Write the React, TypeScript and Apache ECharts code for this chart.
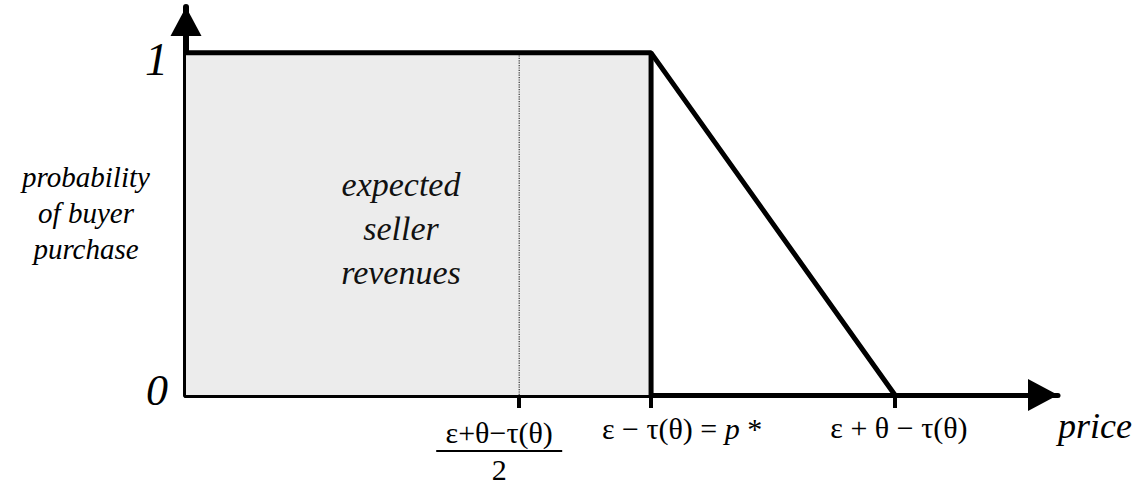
import React, { useEffect, useRef } from "react";
import * as echarts from "echarts";

// price axis (arbitrary units: the reservation ceiling ε+θ−τ(θ) = 100)
const priceMid = 47.0; // (ε+θ−τ(θ))/2
const priceStar = 65.6; // p* = ε − τ(θ)
const priceCeil = 100; // ε+θ−τ(θ)
const priceAxisMax = 123;
const probAxisMax = 1.134;

// probability of purchase curve
const demandCurve: [number, number][] = [
  [0, 1],
  [priceStar, 1],
  [priceCeil, 0],
];
const revenueArea: [number, number][] = [
  [0, 1],
  [priceStar, 1],
];
const pStarEdge: [number, number][] = [
  [priceStar, 0],
  [priceStar, 1],
];
const midGuide: [number, number][] = [
  [priceMid, 0],
  [priceMid, 1],
];

// main price ticks (mid + ceiling) and the p* tick on its own overlay axis
const xTickValues = [priceMid, priceCeil];
const xTickLabels = [
  "{num|ε+θ−τ(θ)}{sp| }\n{bar| }{sp| }\n{den|2}{sp| }",
  "{lp2| }{tc|ε + θ − τ(θ)}",
];
const pStarTickValues = [priceStar];
const pStarTickLabels = ["{lp| }{t|ε − τ(θ) = }{pi|p}{t| *}"];
const yTickValues = [0, 1];
const yTickLabels = ["{zero|0}", "{one|1}"];

const yAxisName = "probability\nof buyer\npurchase";
const areaName = "expected\nseller\nrevenues";
const xAxisName = "price";

const F = "Liberation Serif";

function pick(values: number[], labels: string[], v: number) {
  const i = values.findIndex((t) => Math.abs(t - v) < 1e-6);
  return i >= 0 ? labels[i] : "";
}

function buildOption() {
  const tf = 30;
  const rich = {
    num: { fontFamily: F, fontSize: tf, color: "#000", lineHeight: 32 },
    bar: { width: 126, height: 2, backgroundColor: "#000", lineHeight: 6, fontSize: 6 },
    den: { fontFamily: F, fontSize: tf, color: "#000", lineHeight: 30 },
    sp: { width: 40, fontSize: 6, lineHeight: 6 },
    t: { fontFamily: F, fontSize: tf, color: "#000", lineHeight: 24 },
    tc: { fontFamily: F, fontSize: tf, color: "#000", lineHeight: 22 },
    pi: { fontFamily: F, fontSize: tf, fontStyle: "italic", color: "#000", lineHeight: 24 },
    lp: { width: 62, fontSize: 6, lineHeight: 6 },
    lp2: { width: 8, fontSize: 6, lineHeight: 6 },
  };
  return {
    animation: false,
    grid: { left: 186, right: 87, top: 7, bottom: 87 },
    xAxis: [
      {
        type: "value",
        position: "bottom",
        offset: 0,
        min: 0,
        max: priceAxisMax,
        splitLine: { show: false },
        axisLine: {
          onZero: false,
          lineStyle: { color: "#000", width: 5 },
          symbol: ["none", "triangle"],
          symbolSize: [32, 30],
          symbolOffset: [0, -15],
        },
        axisTick: {
          show: true,
          customValues: xTickValues,
          length: 13,
          lineStyle: { color: "#000", width: 4 },
        },
        axisLabel: {
          customValues: xTickValues,
          showMinLabel: true,
          showMaxLabel: true,
          hideOverlap: false,
          margin: 21,
          formatter: (v: number) => pick(xTickValues, xTickLabels, v),
          rich,
        },
      },
      {
        type: "value",
        position: "bottom",
        offset: 0,
        min: 0,
        max: priceAxisMax,
        splitLine: { show: false },
        axisLine: { show: false, onZero: false },
        axisTick: {
          show: true,
          customValues: pStarTickValues,
          length: 13,
          lineStyle: { color: "#000", width: 4 },
        },
        axisLabel: {
          customValues: pStarTickValues,
          showMinLabel: true,
          showMaxLabel: true,
          hideOverlap: false,
          margin: 21,
          formatter: (v: number) => pick(pStarTickValues, pStarTickLabels, v),
          rich,
        },
      },
    ],
    yAxis: {
      type: "value",
      min: 0,
      max: probAxisMax,
      splitLine: { show: false },
      axisLine: {
        show: true,
        onZero: false,
        lineStyle: { color: "#000", width: 6 },
        symbol: ["none", "triangle"],
        symbolSize: [31, 29],
        symbolOffset: [0, -14.5],
      },
      axisTick: { show: false },
      axisLabel: {
        customValues: yTickValues,
        showMinLabel: true,
        showMaxLabel: true,
        margin: 18,
        formatter: (v: number) => pick(yTickValues, yTickLabels, v),
        rich: {
          zero: { fontFamily: F, fontSize: 44, fontStyle: "italic", color: "#000", padding: [0, 0, 10, 0] },
          one: { fontFamily: F, fontSize: 46, fontStyle: "italic", color: "#000", padding: [14, 0, 0, 0] },
        },
      },
    },
    series: [
      {
        type: "line",
        xAxisIndex: 0,
        data: revenueArea,
        symbol: "none",
        lineStyle: { width: 0 },
        areaStyle: { color: "#ececec", opacity: 1 },
        z: 1,
      },
      {
        type: "line",
        xAxisIndex: 0,
        data: midGuide,
        symbol: "none",
        lineStyle: { color: "#333", width: 1.2, type: "dotted" },
        z: 2,
      },
      {
        type: "line",
        xAxisIndex: 0,
        data: pStarEdge,
        symbol: "none",
        lineStyle: { color: "#000", width: 5 },
        z: 3,
      },
      {
        type: "line",
        xAxisIndex: 0,
        data: demandCurve,
        symbol: "none",
        lineStyle: { color: "#000", width: 5 },
        z: 3,
      },
    ],
    graphic: [
      {
        type: "text",
        x: 86,
        y: 213,
        z: 100,
        style: {
          text: yAxisName,
          fontFamily: F,
          fontStyle: "italic",
          fontSize: 29,
          lineHeight: 36,
          fill: "#000",
          align: "center",
          verticalAlign: "middle",
        },
      },
      {
        type: "text",
        x: 401,
        y: 228,
        z: 100,
        style: {
          text: areaName,
          fontFamily: F,
          fontStyle: "italic",
          fontSize: 34,
          lineHeight: 44,
          fill: "#111",
          align: "center",
          verticalAlign: "middle",
        },
      },
      {
        type: "text",
        x: 1058,
        y: 444,
        z: 100,
        style: {
          text: xAxisName,
          fontFamily: F,
          fontStyle: "italic",
          fontSize: 36,
          fill: "#000",
          align: "left",
          verticalAlign: "bottom",
        },
      },
    ],
  };
}

export default function App() {
  const ref = useRef<HTMLDivElement>(null);
  useEffect(() => {
    if (!ref.current) return;
    const chart = echarts.init(ref.current, undefined, { renderer: "svg" });
    chart.setOption(buildOption() as any);
    return () => chart.dispose();
  }, []);
  return (
    <div style={{ position: "absolute", left: 0, top: 0, width: 1145 }}>
      <style>{`svg text, svg tspan { font-family: "Liberation Serif", "Times New Roman", serif !important; }`}</style>
      <div ref={ref} style={{ width: 1145, height: 484 }} />
    </div>
  );
}
